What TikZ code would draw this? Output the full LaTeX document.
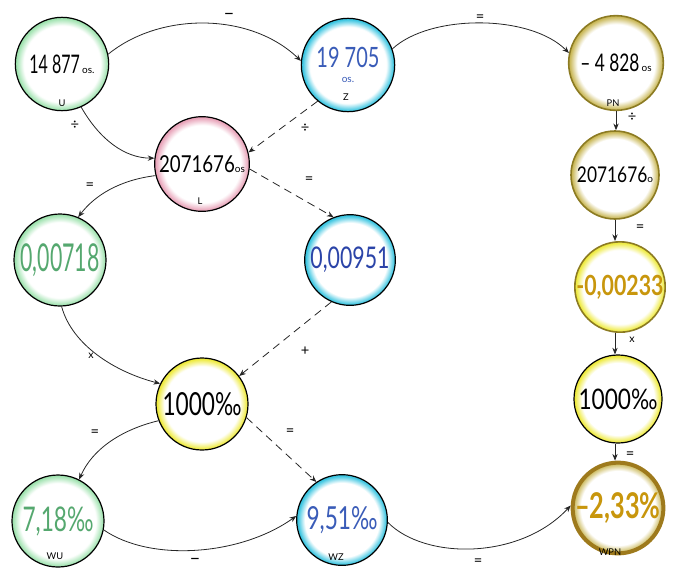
\documentclass[tikz,border=0pt]{standalone}
\usepackage{fontspec}
\setmainfont{Lato}
\usepackage{graphicx}
\usetikzlibrary{arrows.meta}

% palette
\definecolor{glowG}{HTML}{9EE2AE}
\definecolor{glowC}{HTML}{38C4E0}
\definecolor{glowP}{HTML}{E8A2B8}
\definecolor{glowY}{HTML}{EEEA3C}
\definecolor{glowO}{HTML}{C9B756}
\definecolor{txtG}{HTML}{55A86F}
\definecolor{txtB}{HTML}{3A5CB8}
\definecolor{txtB2}{HTML}{2B44A8}
\definecolor{olive}{HTML}{8C7B23}
\definecolor{gold}{HTML}{C8960C}
\definecolor{brownring}{HTML}{9E7A1C}

% white disc that turns into a thin coloured halo just inside the rim
% (the central 50bp square of the shading is fitted to the circle)
\colorlet{glowcol}{white}
\pgfdeclareradialshading[glowcol]{ringglow}{\pgfpoint{0bp}{0bp}}{%
  color(0bp)=(white); color(20.5bp)=(white); color(24.5bp)=(glowcol); color(50bp)=(glowcol)}

% tall, narrow handwritten-like figures: size, vertical stretch, text
\newcommand{\hnum}[3]{{\fontsize{#1}{#1}\selectfont\scalebox{1}[#2]{#3}}}
\newcommand{\smalltxt}[1]{{\fontsize{7.5}{7.5}\selectfont #1}}

\begin{document}
\begin{tikzpicture}[x=0.75pt, y=-0.75pt,
  bub/.style={circle, draw=black, line width=0.9pt, inner sep=0pt,
              minimum size=#1, shade, shading=ringglow},
  halo/.code={\colorlet{glowcol}{#1}},
  tag/.style={font=\fontsize{7}{7}\selectfont, inner sep=0pt},
  op/.style={font=\fontsize{11}{11}\selectfont, inner sep=0pt},
  link/.style={draw=black!85, line width=0.6pt, -{Stealth[length=5pt,width=4pt]}},
  dlink/.style={link, dash pattern=on 6pt off 4pt},
]
\useasboundingbox (0,0) rectangle (673,568);

% ---- circles ----
\node[bub=70pt, halo=glowG] (U) at (62,64)
  {\hnum{12}{1.6}{14 877}\,\smalltxt{os.}};
\node[bub=70pt, halo=glowC, text=txtB, align=center] (Z) at (348,65)
  {\hnum{15}{1.4}{19 705}\\[-1pt]\smalltxt{os.}};
\node[bub=71pt, halo=glowO, draw=olive, line width=1.2pt] (PN) at (616,63)
  {\hnum{13}{1.4}{– 4 828}\,\smalltxt{os}};
\node[bub=71pt, halo=glowP] (L) at (202,164)
  {\hnum{14}{1.25}{2071676}\smalltxt{os}};
\node[bub=66pt, halo=glowO, draw=olive, line width=1.2pt] (R2) at (615,175)
  {\hnum{13}{1.25}{2071676}\smalltxt{o}};
\node[bub=65pt, halo=glowY, draw=olive, line width=1.2pt, text=gold] (R3) at (620,287)
  {\hnum{16}{1.3}{\bfseries -0,00233}};
\node[bub=69pt, halo=glowG, text=txtG] (A) at (60,260)
  {\hnum{16}{1.8}{0,00718}};
\node[bub=68pt, halo=glowC, text=txtB2] (B) at (350,260)
  {\hnum{16}{1.4}{0,00951}};
\node[bub=69pt, halo=glowY] (M) at (202,404)
  {\hnum{17}{1.4}{1000‰}};
\node[bub=66pt, halo=glowY] (R4) at (618,399)
  {\hnum{17}{1.25}{1000‰}};
\node[bub=69pt, halo=glowG, text=txtG] (WU) at (58,521)
  {\hnum{17}{1.5}{7,18‰}};
\node[bub=68pt, halo=glowC, text=txtB] (WZ) at (342,520)
  {\hnum{17}{1.4}{9,51‰}};
\node[bub=68pt, halo=glowO, draw=brownring, line width=3pt, text=gold] (WPN) at (618,508)
  {\hnum{19}{1.4}{\bfseries –2,33\%}};

% ---- small names inside the circles ----
\node[tag] (tU) at (62,103) {U};
\node[tag] (tZ) at (346,97) {Z};
\node[tag] (tPN) at (613,103) {PN};
\node[tag] (tL) at (200,201) {L};
\node[tag] (tWU) at (55,556) {WU};
\node[tag] (tWZ) at (336,557) {WZ};
\node[tag] (tWPN) at (610,552) {WPN};

% ---- connectors ----
\draw[link] (U.12) .. controls (160,12) and (250,12) .. (Z.175);
\draw[link] (Z.20) .. controls (430,14) and (530,14) .. (PN.168);
\draw[link] (U.-66) .. controls (100,140) and (125,158) .. (L.173);
\draw[dlink] (Z.-130) -- (L.14);
\draw[link] (L.-166) .. controls (120,180) and (95,195) .. (A.67);
\draw[dlink] (L.-6) -- (B.111);
\draw[link] (A.-88) .. controls (72,345) and (115,372) .. (M.154);
\draw[dlink] (B.-114) -- (M.37);
\draw[link] (M.-159) .. controls (120,430) and (92,450) .. (WU.63);
\draw[dlink] (M.-17) -- (WZ.124);
\draw[link] (WU.-11) .. controls (150,562) and (240,556) .. (WZ.175);
\draw[link] (WZ.-3) .. controls (425,560) and (520,560) .. (WPN.177);
\draw[link] (PN.south) -- (PN.south |- R2.north);
\draw[link] (R2.south) -- (R2.south |- R3.north);
\draw[link] (R3.south -| R2.south) -- (R2.south |- R4.north);
\draw[link] (R4.south -| R2.south) -- (R2.south |- WPN.north);

% ---- operation marks ----
\node[op, font=\fontsize{14}{14}\selectfont] (o1) at (229,16) {–};
\node[op] (o2) at (480,18) {=};
\node[op] (o3) at (75,125) {÷};
\node[op] (o4) at (305,128) {÷};
\node[op] (o5) at (632,117) {÷};
\node[op] (o6) at (90,186) {=};
\node[op] (o7) at (309,180) {=};
\node[op] (o8) at (640,228) {=};
\node[op, font=\fontsize{8}{8}\selectfont] (o9) at (91,356) {x};
\node[op] (o10) at (305,351) {+};
\node[op, font=\fontsize{8}{8}\selectfont] (o11) at (632,340) {x};
\node[op] (o12) at (95,433) {=};
\node[op] (o13) at (290,432) {=};
\node[op] (o14) at (630,455) {=};
\node[op, font=\fontsize{14}{14}\selectfont] (o15) at (195,561) {–};
\node[op] (o16) at (478,562) {=};
\end{tikzpicture}
\end{document}
